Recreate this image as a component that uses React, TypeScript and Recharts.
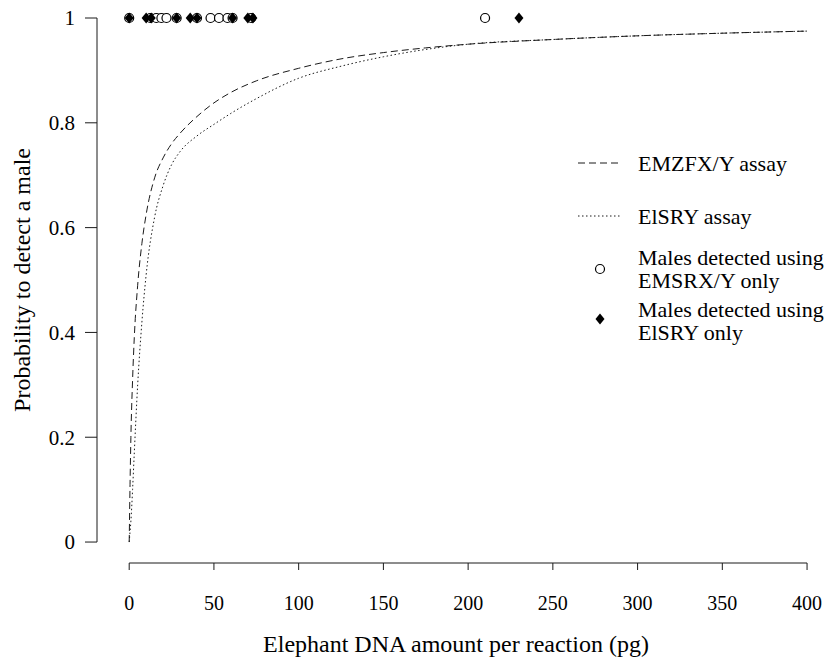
import React from 'react';
import {
  ComposedChart,
  Line,
  Scatter,
  XAxis,
  YAxis,
  ReferenceLine,
  Label,
} from 'recharts';

// DNA amount (pg) at which the two detection curves were read
const doseX = [0, 0.5, 1, 2, 3, 5, 7.5, 10, 15, 20, 25, 30, 40, 50, 60, 75, 100, 125, 150, 175, 200, 250, 300, 350, 400];
// probability to detect a male, EMZFX/Y assay (dashed)
const emzfxP = [0, 0.11, 0.2, 0.31, 0.39, 0.49, 0.57, 0.625, 0.695, 0.733, 0.76, 0.78, 0.812, 0.838, 0.858, 0.88, 0.904, 0.922, 0.934, 0.943, 0.95, 0.959, 0.966, 0.971, 0.975];
// probability to detect a male, ElSRY assay (dotted)
const elsryP = [0, 0.02, 0.04, 0.1, 0.17, 0.3, 0.42, 0.51, 0.62, 0.68, 0.72, 0.745, 0.775, 0.797, 0.818, 0.846, 0.885, 0.908, 0.926, 0.94, 0.95, 0.959, 0.966, 0.971, 0.975];

// samples where a male was detected by one assay only
const emsrxOnlyX = [0, 12.5, 16, 19, 22, 28, 40, 48, 53, 58, 61, 72, 210];
const elsryOnlyX = [0, 10, 13, 28, 36, 40, 61, 70, 73, 230];

const xTicks = [0, 50, 100, 150, 200, 250, 300, 350, 400];
const yTicks = [0, 0.2, 0.4, 0.6, 0.8, 1];

const curveData = doseX.map((x, i) => ({ x, emzfx: emzfxP[i], elsry: elsryP[i] }));
const emsrxData = emsrxOnlyX.map((x) => ({ x, y: 1 }));
const elsryData = elsryOnlyX.map((x) => ({ x, y: 1 }));

const FONT = 'Liberation Serif';
const INK = '#1a1a1a';

const OpenCircle = (props: any) => (
  <circle cx={props.cx} cy={props.cy} r={4.5} fill="#fff" stroke="#000" strokeWidth={1.2} />
);

const Diamond = (props: any) => {
  const { cx, cy } = props;
  return <path d={`M${cx},${cy - 5.5}L${cx + 4.5},${cy}L${cx},${cy + 5.5}L${cx - 4.5},${cy}Z`} fill="#000" />;
};

const legendText: React.CSSProperties = {
  position: 'absolute',
  left: 638,
  fontSize: 22,
  lineHeight: '23px',
  whiteSpace: 'nowrap',
  color: '#000',
  fontFamily: FONT,
};

const ChartLegend = () => (
  <div style={{ position: 'absolute', left: 0, top: 0, width: 824, height: 661, pointerEvents: 'none' }}>
    <svg width={824} height={661} style={{ position: 'absolute', left: 0, top: 0 }}>
      <line x1={578} x2={620} y1={163} y2={163} stroke={INK} strokeDasharray="7 4" />
      <line x1={578} x2={620} y1={216} y2={216} stroke={INK} strokeDasharray="1.5 2.5" />
      <circle cx={600} cy={269} r={4.5} fill="#fff" stroke="#000" strokeWidth={1.2} />
      <path d="M600,313.5L604.5,319L600,324.5L595.5,319Z" fill="#000" />
    </svg>
    <div style={{ ...legendText, top: 163 - 11.5 }}>EMZFX/Y assay</div>
    <div style={{ ...legendText, top: 216 - 11.5 }}>ElSRY assay</div>
    <div style={{ ...legendText, top: 269 - 23 }}>Males detected using<br />EMSRX/Y only</div>
    <div style={{ ...legendText, top: 321 - 23 }}>Males detected using<br />ElSRY only</div>
  </div>
);

export default function App() {
  return (
    <div style={{ position: 'relative', width: 824, height: 661, background: '#fff', fontFamily: FONT }}>
      <style>{'body{margin:0}'}</style>
      <ComposedChart
        width={824}
        height={661}
        data={curveData}
        margin={{ top: 18, right: 0, bottom: 38, left: 17 }}
        style={{ fontFamily: FONT }}
      >
        <XAxis
          type="number"
          dataKey="x"
          domain={[-19, 410]}
          ticks={xTicks}
          axisLine={false}
          tickLine={{ stroke: INK }}
          tickSize={7}
          tickMargin={26}
          height={60}
          tick={{ fill: '#000', fontSize: 20, fontFamily: FONT }}
        >
          <Label
            content={() => (
              <text x={456} y={652} textAnchor="middle" fontSize={24} fontFamily={FONT} fill="#000">
                Elephant DNA amount per reaction (pg)
              </text>
            )}
          />
        </XAxis>
        <YAxis
          type="number"
          domain={[-0.04, 1]}
          ticks={yTicks}
          axisLine={false}
          tickLine={{ stroke: INK }}
          tickSize={12}
          tickMargin={10}
          width={80}
          tick={{ fill: '#000', fontSize: 21, fontFamily: FONT }}
        >
          <Label
            content={() => (
              <text transform="translate(30,280) rotate(-90)" textAnchor="middle" fontSize={24} fontFamily={FONT} fill="#000">
                Probability to detect a male
              </text>
            )}
          />
        </YAxis>
        <ReferenceLine
          segment={[{ x: 0, y: -0.04 }, { x: 400, y: -0.04 }]}
          stroke={INK}
          ifOverflow="visible"
        />
        <ReferenceLine
          segment={[{ x: -19, y: 0 }, { x: -19, y: 1 }]}
          stroke={INK}
          ifOverflow="visible"
        />
        <Line
          type="monotone"
          dataKey="emzfx"
          stroke={INK}
          strokeWidth={1}
          strokeDasharray="7 4"
          dot={false}
          activeDot={false}
          isAnimationActive={false}
        />
        <Line
          type="monotone"
          dataKey="elsry"
          stroke={INK}
          strokeWidth={1}
          strokeDasharray="1.5 2.5"
          dot={false}
          activeDot={false}
          isAnimationActive={false}
        />
        <Scatter data={emsrxData} dataKey="y" shape={OpenCircle} isAnimationActive={false} />
        <Scatter data={elsryData} dataKey="y" shape={Diamond} isAnimationActive={false} />
      </ComposedChart>
      <ChartLegend />
    </div>
  );
}
